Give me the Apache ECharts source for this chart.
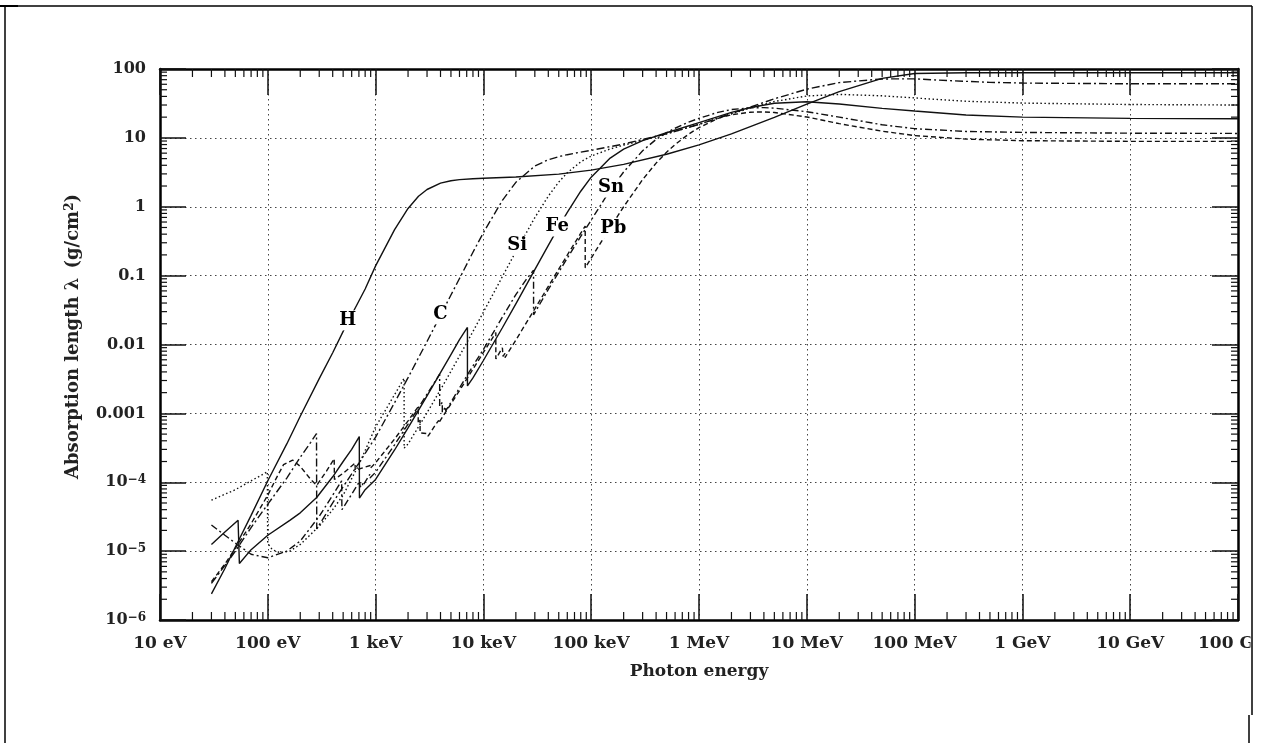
<!DOCTYPE html>
<html><head><meta charset="utf-8">
<script src="https://cdn.jsdelivr.net/npm/echarts@6/dist/echarts.min.js"></script>
<style>html,body{margin:0;padding:0;background:#fff}#c{width:1263px;height:743px}</style>
</head><body><div id="c"></div>
<script>
// ---- tick labels ----
const xTickLabels = ['10 eV','100 eV','1 keV','10 keV','100 keV','1 MeV','10 MeV','100 MeV','1 GeV','10 GeV','100 GeV'];
const yTickLabels = ['10{sup|\u22126}','10{sup|\u22125}','10{sup|\u22124}','0.001','0.01','0.1','1','10','100'];

// ---- data: [photon energy (eV), absorption length (g/cm^2)] ----
const H = [[30,2.4e-6],[40,5.6e-6],[50,1.15e-5],[70,3.3e-5],[100,1.05e-4],[150,3.6e-4],[200,9.1e-4],[300,3.2e-3],[400,7.6e-3],[500,0.0155],[600,0.027],[800,0.064],[1000,0.1386],[1500,0.466],[2000,0.944],[2500,1.42],[3000,1.78],[4000,2.2],[5000,2.385],[6000,2.474],[8000,2.555],[1e4,2.595],[2e4,2.706],[5e4,2.98],[1e5,3.4],[2e5,4.12],[5e5,5.78],[1e6,7.92],[2e6,11.4],[5e6,19.8],[1e7,31],[2e7,47],[5e7,73],[1e8,86],[3e8,88],[1e9,88],[1e11,88]];
const C = [[30,3.4e-6],[40,6.2e-6],[50,1.0e-5],[70,2.2e-5],[100,4.8e-5],[150,1.15e-4],[200,2.3e-4],[250,3.8e-4],[283,5.1e-4],[284.5,2.1e-5],[300,2.4e-5],[400,5.0e-5],[500,8.6e-5],[700,1.9e-4],[1000,4.52e-4],[1500,1.43e-3],[2000,3.3e-3],[3000,0.01107],[4000,0.0265],[5000,0.0523],[6000,0.0907],[8000,0.2185],[1e4,0.421],[1.5e4,1.239],[2e4,2.262],[3e4,3.9],[4e4,4.82],[5e4,5.34],[6e4,5.7],[8e4,6.21],[1e5,6.6],[2e5,8.14],[5e5,11.47],[1e6,15.72],[2e6,22.5],[5e6,36.9],[1e7,51],[2e7,63.5],[5e7,71.7],[1e8,72],[2e8,68],[5e8,64],[1e9,62.5],[1e10,61],[1e11,61]];
const Si = [[30,5.5e-5],[50,7.8e-5],[70,1.05e-4],[90,1.3e-4],[99,1.42e-4],[99.8,1.3e-5],[110,1.05e-5],[130,9.5e-6],[160,1.0e-5],[200,1.25e-5],[300,2.3e-5],[400,4.0e-5],[500,6.5e-5],[700,1.8e-4],[1000,6.37e-4],[1500,1.87e-3],[1838,3.23e-3],[1840,3.13e-4],[2000,3.6e-4],[3000,1.02e-3],[4000,2.21e-3],[5000,4.08e-3],[6000,6.8e-3],[8000,0.01546],[1e4,0.0295],[1.5e4,0.0967],[2e4,0.224],[3e4,0.696],[4e4,1.426],[5e4,2.28],[6e4,3.12],[8e4,4.49],[1e5,5.45],[1.5e5,6.91],[2e5,7.84],[3e5,9.24],[5e5,11.43],[1e6,15.72],[2e6,22.3],[3e6,27.2],[5e6,33.7],[1e7,40.6],[2e7,42.8],[5e7,40.8],[1e8,38],[3e8,34],[1e9,32],[1e10,30.5],[1e11,30]];
const Fe = [[30,1.25e-5],[40,1.9e-5],[53,2.8e-5],[54.5,6.6e-6],[70,1.05e-5],[100,1.7e-5],[160,2.8e-5],[200,3.6e-5],[284,6.0e-5],[400,1.2e-4],[500,2.0e-4],[600,3.0e-4],[706,4.6e-4],[708,5.9e-5],[800,7.8e-5],[1000,1.1e-4],[1500,2.94e-4],[2000,6.15e-4],[3000,1.79e-3],[4000,3.9e-3],[5000,7.15e-3],[6000,0.0118],[7110,0.0177],[7114,2.5e-3],[8000,3.27e-3],[1e4,5.86e-3],[1.5e4,0.0175],[2e4,0.0389],[3e4,0.1223],[4e4,0.2756],[5e4,0.511],[6e4,0.83],[8e4,1.68],[1e5,2.69],[1.5e5,5.09],[2e5,6.85],[3e5,9.1],[5e5,11.88],[1e6,16.68],[2e6,23.45],[3e6,27.6],[5e6,31.8],[1e7,33.4],[2e7,31],[5e7,26.8],[1e8,24.5],[3e8,21.5],[1e9,20],[1e10,19.2],[1e11,19]];
const Sn = [[30,2.4e-5],[40,1.7e-5],[52,1.25e-5],[70,9e-6],[100,8e-6],[150,1.0e-5],[200,1.4e-5],[300,3.2e-5],[400,6.5e-5],[484,1.05e-4],[487,4.0e-5],[600,6.7e-5],[713,1.04e-4],[716,8.5e-5],[756,9.7e-5],[758,8.8e-5],[884,1.3e-4],[886,1.15e-4],[1000,1.4e-4],[1500,3.5e-4],[2000,7e-4],[3000,1.9e-3],[3928,3.7e-3],[3930,1.27e-3],[4155,1.45e-3],[4157,1.04e-3],[4464,1.25e-3],[4466,1.09e-3],[5000,1.45e-3],[6000,2.35e-3],[8000,4.9e-3],[1e4,8.5e-3],[1.5e4,0.025],[2e4,0.053],[2.5e4,0.088],[2.919e4,0.12],[2.921e4,0.027],[3e4,0.029],[4e4,0.063],[5e4,0.112],[6e4,0.18],[8e4,0.37],[1e5,0.64],[1.5e5,1.75],[2e5,3.2],[3e5,6.5],[4e5,9.5],[5e5,11.9],[6e5,13.8],[8e5,16.9],[1e6,19.2],[1.5e6,23.5],[2e6,25.8],[3e6,27.3],[4e6,27.5],[5e6,27],[1e7,24],[2e7,20],[5e7,15.5],[1e8,13.6],[3e8,12.4],[1e9,12],[1e10,11.7],[1e11,11.6]];
const Pb = [[30,3.6e-6],[40,6.5e-6],[50,1.1e-5],[70,2.5e-5],[100,6.5e-5],[120,1.15e-4],[140,1.8e-4],[170,2.1e-4],[200,1.7e-4],[250,1.1e-4],[284,9e-5],[350,1.45e-4],[413,2.2e-4],[415,1.1e-4],[500,1.35e-4],[645,1.9e-4],[647,1.5e-4],[894,1.75e-4],[896,1.6e-4],[1000,1.92e-4],[1500,4.24e-4],[2000,7.78e-4],[2484,1.25e-3],[2485,7.16e-4],[2586,8.0e-4],[2587,5.2e-4],[3000,5.09e-4],[3066,5.38e-4],[3067,4.66e-4],[3554,6.68e-4],[3555,6.31e-4],[3851,7.9e-4],[3852,7.23e-4],[4000,7.99e-4],[5000,1.37e-3],[6000,2.14e-3],[8000,4.37e-3],[1e4,7.66e-3],[13040,0.0149],[13041,6.17e-3],[15000,8.96e-3],[15200,9.28e-3],[15201,6.73e-3],[15860,7.44e-3],[15861,6.46e-3],[2e4,0.01158],[3e4,0.033],[4e4,0.0696],[5e4,0.1244],[6e4,0.199],[8e4,0.413],[88000,0.524],[88001,0.13],[1e5,0.18],[1.5e5,0.497],[2e5,1.0],[3e5,2.48],[4e5,4.3],[5e5,6.2],[6e5,8.0],[8e5,11.3],[1e6,14.1],[1.5e6,19.15],[2e6,21.7],[3e6,23.6],[4e6,23.8],[5e6,23.4],[1e7,20.1],[2e7,16.1],[5e7,12.5],[1e8,10.8],[3e8,9.6],[1e9,9.1],[1e10,8.9],[1e11,8.9]];

// element label anchors (data space)
const elementLabels = [
  {name:'H',  at:[551, 0.0224]},
  {name:'C',  at:[4000, 0.0274]},
  {name:'Si', at:[20600, 0.274]},
  {name:'Fe', at:[48400, 0.517]},
  {name:'Sn', at:[153000, 1.9]},
  {name:'Pb', at:[160000, 0.484]}
];

const X_MIN = 10, X_MAX = 1e11, Y_MIN = 1e-6, Y_MAX = 100;
const FONT = 'DejaVu Serif';
const INK = '#111';

// minor tick values 2..9 per decade
const xMinor = [];
for (let e = 1; e < 11; e++) for (let m = 2; m <= 9; m++) xMinor.push([m * Math.pow(10, e), Y_MIN]);
const yMinor = [];
for (let e = -6; e < 2; e++) for (let m = 2; m <= 9; m++) yMinor.push([X_MIN, m * Math.pow(10, e)]);

function lineSeries(name, data, dash) {
  return {
    name, type: 'line', data, showSymbol: false, symbol: 'none', smooth: false,
    lineStyle: {color: INK, width: 1.4, type: dash},
    emphasis: {disabled: true}, z: 3, animation: false
  };
}

const supRich = {sup: {fontFamily: FONT, fontWeight: 'bold', fontSize: 12, color: '#222', verticalAlign: 'top', lineHeight: 13, padding: [0, 0, 6, 0]}};

const chart = echarts.init(document.getElementById('c'));
const baseAxis = {
  type: 'log', logBase: 10, interval: 1,
  axisLine: {show: true, onZero: false, lineStyle: {color: '#000', width: 2.5}},
  axisTick: {show: true, inside: true, length: 26, lineStyle: {color: INK, width: 1.5}},
  minorTick: {show: false},
  splitLine: {show: false}
};

chart.setOption({
  backgroundColor: '#fff',
  animation: false,
  grid: {left: 160, top: 69, width: 1078, height: 551, containLabel: false, outerBoundsMode: 'none'},
  xAxis: [
    Object.assign({}, baseAxis, {
      min: X_MIN, max: X_MAX, position: 'bottom',
      axisLabel: {
        show: true, margin: 15, fontFamily: FONT, fontWeight: 'bold', fontSize: 17, color: '#222',
        hideOverlap: false, interval: 0,
        formatter: v => xTickLabels[Math.round(Math.log10(v)) - 1] || ''
      },
      splitLine: {show: true, lineStyle: {color: '#444', width: 1, type: [1.5, 3.5]}},
      name: 'Photon energy', nameLocation: 'middle', nameGap: 43,
      nameTextStyle: {fontFamily: FONT, fontWeight: 'bold', fontSize: 17, color: '#222'}
    }),
    Object.assign({}, baseAxis, {
      min: X_MIN, max: X_MAX, position: 'top',
      axisLabel: {show: false}
    })
  ],
  yAxis: [
    Object.assign({}, baseAxis, {
      min: Y_MIN, max: Y_MAX, position: 'left',
      axisLabel: {
        show: true, margin: 14, fontFamily: FONT, fontWeight: 'bold', fontSize: 16, color: '#222',
        formatter: v => yTickLabels[Math.round(Math.log10(v)) + 6] || '',
        rich: supRich
      },
      splitLine: {show: true, lineStyle: {color: '#444', width: 1, type: [1.5, 3.5]}},
      name: 'Absorption length \u03bb\u2002(g/cm{sup|2})', nameLocation: 'middle', nameGap: 78,
      nameTextStyle: {fontFamily: FONT, fontWeight: 'bold', fontSize: 18, color: '#222', rich: supRich, padding: [0, 0, 0, 16]}
    }),
    Object.assign({}, baseAxis, {
      min: Y_MIN, max: Y_MAX, position: 'right',
      axisLabel: {show: false}
    })
  ],
  series: [
    lineSeries('H', H, 'solid'),
    lineSeries('C', C, [8, 3, 2, 3]),
    lineSeries('Si', Si, [1.5, 2.5]),
    lineSeries('Fe', Fe, 'solid'),
    lineSeries('Sn', Sn, [7, 3, 2, 3]),
    lineSeries('Pb', Pb, [5, 3]),
    {
      type: 'custom', name: 'xMinorTicks', data: xMinor, silent: true, clip: false, z: 4,
      encode: {x: 0, y: 1},
      renderItem: (params, api) => {
        const v = api.value(0);
        const b = api.coord([v, Y_MIN]), t = api.coord([v, Y_MAX]);
        const st = {stroke: INK, lineWidth: 1.2};
        return {type: 'group', children: [
          {type: 'line', shape: {x1: b[0], y1: b[1], x2: b[0], y2: b[1] - 8}, style: st},
          {type: 'line', shape: {x1: t[0], y1: t[1], x2: t[0], y2: t[1] + 8}, style: st}
        ]};
      }
    },
    {
      type: 'custom', name: 'yMinorTicks', data: yMinor, silent: true, clip: false, z: 4,
      encode: {x: 0, y: 1},
      renderItem: (params, api) => {
        const v = api.value(1);
        const l = api.coord([X_MIN, v]), r = api.coord([X_MAX, v]);
        const st = {stroke: INK, lineWidth: 1.2};
        return {type: 'group', children: [
          {type: 'line', shape: {x1: l[0], y1: l[1], x2: l[0] + 7, y2: l[1]}, style: st},
          {type: 'line', shape: {x1: r[0], y1: r[1], x2: r[0] - 7, y2: r[1]}, style: st}
        ]};
      }
    },
    {
      type: 'scatter', name: 'labels', silent: true, z: 6,
      data: elementLabels.map(d => ({name: d.name, value: d.at})),
      symbolSize: 0, itemStyle: {color: '#000', opacity: 1},
      label: {
        show: true, position: 'inside', formatter: '{b}', opacity: 1,
        fontFamily: FONT, fontWeight: 'bold', fontSize: 18, color: '#000',
        backgroundColor: '#fff', padding: [1, 2]
      }
    }
  ],
  graphic: [
    {type: 'rect', z: 100, shape: {x: 1250.5, y: 0, width: 13, height: 743}, style: {fill: '#fff'}},
    {type: 'line', z: 101, shape: {x1: 5, y1: 6, x2: 1252, y2: 6}, style: {stroke: '#000', lineWidth: 1.5}},
    {type: 'line', z: 101, shape: {x1: 5, y1: 6, x2: 5, y2: 743}, style: {stroke: '#000', lineWidth: 1.5}},
    {type: 'line', z: 101, shape: {x1: 1252, y1: 6, x2: 1252, y2: 715}, style: {stroke: '#000', lineWidth: 1.5}},
    {type: 'line', z: 101, shape: {x1: 1249, y1: 715, x2: 1249, y2: 743}, style: {stroke: '#000', lineWidth: 1.5}},
    {type: 'rect', z: 101, shape: {x: 0, y: 5, width: 18, height: 2}, style: {fill: '#000'}}
  ]
});
</script>
</body></html>
